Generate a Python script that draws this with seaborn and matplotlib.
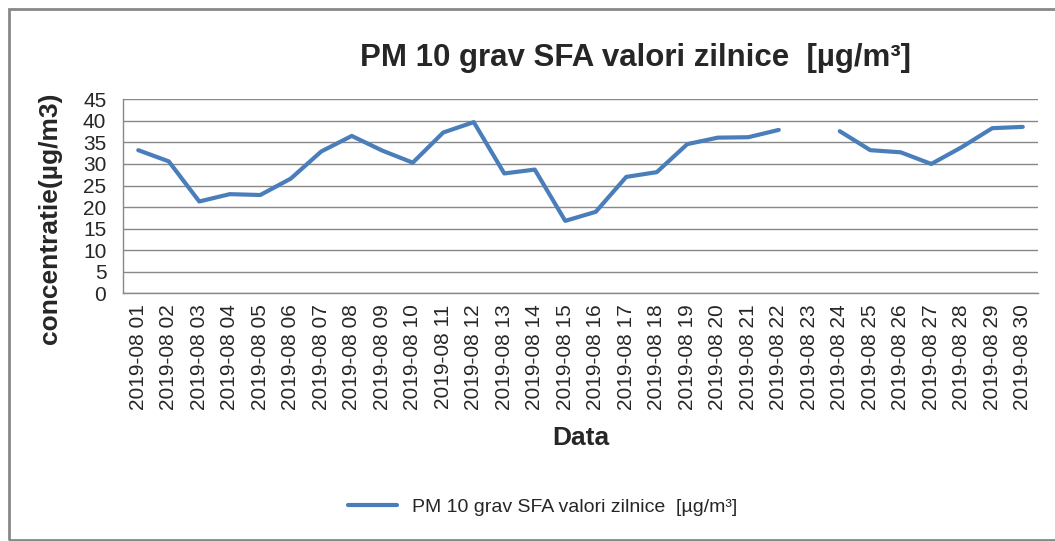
import numpy as np
import pandas as pd
import matplotlib
matplotlib.use("Agg")
import matplotlib.pyplot as plt
import matplotlib.patches as patches
import seaborn as sns

days = ["2019-08 %02d" % d for d in range(1, 31)]
pm10 = [33.2, 30.6, 21.3, 23.0, 22.8, 26.6, 32.9, 36.5, 33.1, 30.3,
        37.3, 39.7, 27.8, 28.7, 16.8, 18.9, 27.0, 28.1, 34.6, 36.1,
        36.2, 37.9, np.nan, 37.6, 33.2, 32.7, 30.0, 33.9, 38.3, 38.6]
series_name = "PM 10 grav SFA valori zilnice  [\u00b5g/m\u00b3]"

sns.set_style("white")
plt.rcParams['font.family'] = ['Liberation Sans', 'DejaVu Sans']

data = pd.DataFrame({"day": days, "value": pm10})
data["pos"] = np.arange(len(days))
# split on missing day so the line has a gap
data["segment"] = data["value"].isna().cumsum()
data = data.dropna()

fig = plt.figure(figsize=(10.55, 5.41), dpi=100)
ax = fig.add_axes([0.1166, 0.4578, 0.8673, 0.3587])

sns.lineplot(data=data, x="pos", y="value", units="segment", estimator=None,
             color="#4A7EBB", linewidth=3.0, ax=ax)

grid_c = "#888888"
ax.set_ylim(0, 45)
ax.set_yticks(range(0, 46, 5))
ax.set_xlim(-0.5, len(days) - 0.5)
ax.set_xticks(np.arange(-0.5, len(days), 1.0))
ax.set_xticklabels([])
ax.set_xticks(np.arange(len(days)), minor=True)
ax.set_xticklabels(days, minor=True, rotation=90)
ax.tick_params(axis="x", which="major", length=6, color=grid_c, direction="out")
ax.tick_params(axis="x", which="minor", length=0, pad=8, labelsize=15)
ax.tick_params(axis="y", length=6, color=grid_c, direction="out", pad=6, labelsize=15)
ax.grid(axis="y", color=grid_c, linewidth=1.0)
ax.set_xlabel("")
ax.set_ylabel("")
for side in ["top", "right"]:
    ax.spines[side].set_visible(False)
for side in ["left", "bottom"]:
    ax.spines[side].set_color(grid_c)
    ax.spines[side].set_linewidth(1.0)

fig.text(635 / 1055, 1 - 58 / 541, "PM 10 grav SFA valori zilnice  [\u00b5g/m\u00b3]",
         ha="center", va="center", fontsize=22.5, fontweight="bold")
fig.text(50 / 1055, 1 - 218 / 541, "concentratie(\u00b5g/m3)", rotation=90,
         ha="center", va="center", fontsize=19, fontweight="bold")
fig.text(581 / 1055, 1 - 438 / 541, "Data", ha="center", va="center",
         fontsize=19, fontweight="bold")

fig.legend(handles=[ax.lines[0]], labels=[series_name], loc="center",
           bbox_to_anchor=(543 / 1055, 1 - 507 / 541), frameon=False,
           fontsize=14, handlelength=2.5)

fig.patches.append(patches.Rectangle((9 / 1055, 1 / 541), 1.0, 1 - 10 / 541,
                                     transform=fig.transFigure, fill=False,
                                     edgecolor=grid_c, linewidth=2))

fig.savefig("out.png", dpi=100)
